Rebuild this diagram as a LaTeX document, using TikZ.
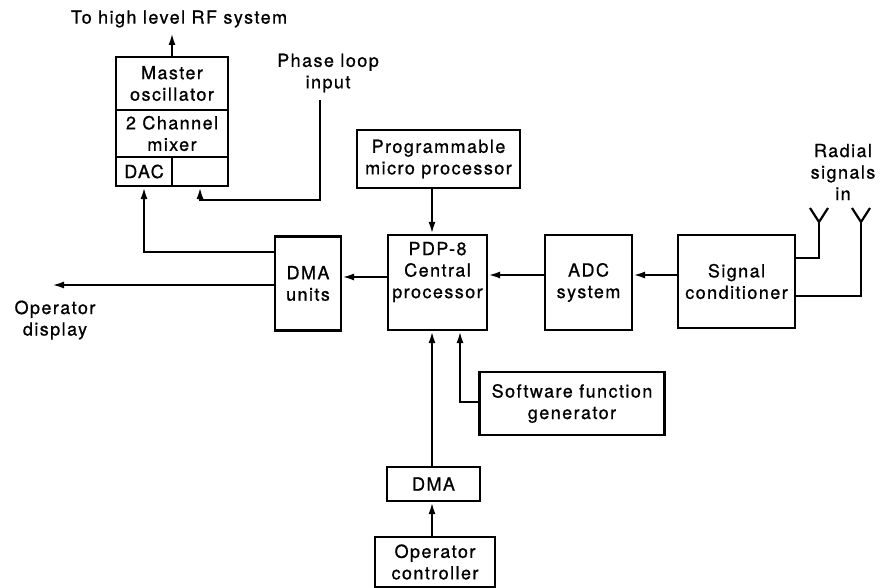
\documentclass[tikz,border=0pt]{standalone}
\usepackage{fontspec}
\setmainfont{TeX Gyre Heros}[LetterSpace=8,FakeBold=0.8]
\usetikzlibrary{arrows.meta}

\begin{document}
\begin{tikzpicture}[x=1pt,y=-1pt,line width=2.2pt,
	box/.style={draw,inner sep=0pt,align=center},
	txt/.style={align=center,inner sep=0pt},
	arr/.style={-{Latex[length=12pt,width=7pt]}},
	font=\fontsize{18}{21.5}\selectfont]
	\useasboundingbox (0,0) rectangle (880,588);
	% oscillator stack
	\node[box,minimum width=112,minimum height=53] (osc) at (172,83.5) {Master\\oscillator};
	\node[box,minimum width=112,minimum height=47] (mix) at (172,133.5) {2 Channel\\mixer};
	\node[box,minimum width=56,minimum height=29] (dac) at (144,171.5) {DAC};
	\node[box,minimum width=56,minimum height=29] (blank) at (200,171.5) {};
	\node[txt] (rf) at (179,19) {To high level RF system};
	\node[txt] (phase) at (328,73) {Phase loop\\input};
	\coordinate (ph) at (320,100);
	% main row
	\node[box,minimum width=66,minimum height=94] (dmau) at (308,283.5) {DMA\\units};
	\node[box,minimum width=99,minimum height=95] (pdp) at (437.5,282.5) {};
	\node[txt] (pdptxt) at (437.5,272) {PDP-8\\Central\\processor};
	\node[box,minimum width=87,minimum height=95] (adc) at (588.5,282.5) {ADC\\system};
	\node[box,minimum width=117,minimum height=93] (sc) at (736.5,281.5) {Signal\\conditioner};
	\node[box,minimum width=163,minimum height=58] (prog) at (438.5,159) {Programmable\\micro processor};
	\node[box,minimum width=185,minimum height=63] (sfg) at (572,403.5) {Software function\\generator};
	\node[box,minimum width=93,minimum height=34] (dma) at (433.5,484) {DMA};
	\node[box,minimum width=120,minimum height=50] (oc) at (435,562) {Operator\\controller};
	\node[txt] (opd) at (55,320) {Operator\\display};
	\coordinate (disp) at (52,285);
	\node[txt] (radial) at (843,172) {Radial\\signals\\in};
	% antennas
	\coordinate (ant1) at (819,222);
	\coordinate (ant2) at (861,222);
	\draw (810,208) -- (ant1) -- (828,208);
	\draw (852,208) -- (ant2) -- (870,208);
	\draw (ant1) |- (sc.east |- 0,258);
	\draw (ant2) |- (sc.east |- 0,296);
	% connections
	\draw[arr] (osc.north) -- (172,33);
	\draw[arr] (ph) |- (200,200) -- (blank.south);
	\draw[arr] (dmau.west |- 0,252) -| (dac.south);
	\draw[arr] (dmau.west |- 0,285) -- (disp);
	\draw[arr] (pdp.west |- 0,277) -- (dmau.east |- 0,277);
	\draw[arr] (adc.west |- 0,275) -- (pdp.east |- 0,275);
	\draw[arr] (sc.west |- 0,275) -- (adc.east |- 0,275);
	\draw[arr] (prog.south -| 432,0) -- (pdp.north -| 432,0);
	\draw[arr] (dma.north -| 432,0) -- (pdp.south -| 432,0);
	\draw[arr] (sfg.west |- 0,402) -| (pdp.south -| 460,0);
	\draw[arr] (oc.north -| 432,0) -- (dma.south -| 432,0);
\end{tikzpicture}
\end{document}
